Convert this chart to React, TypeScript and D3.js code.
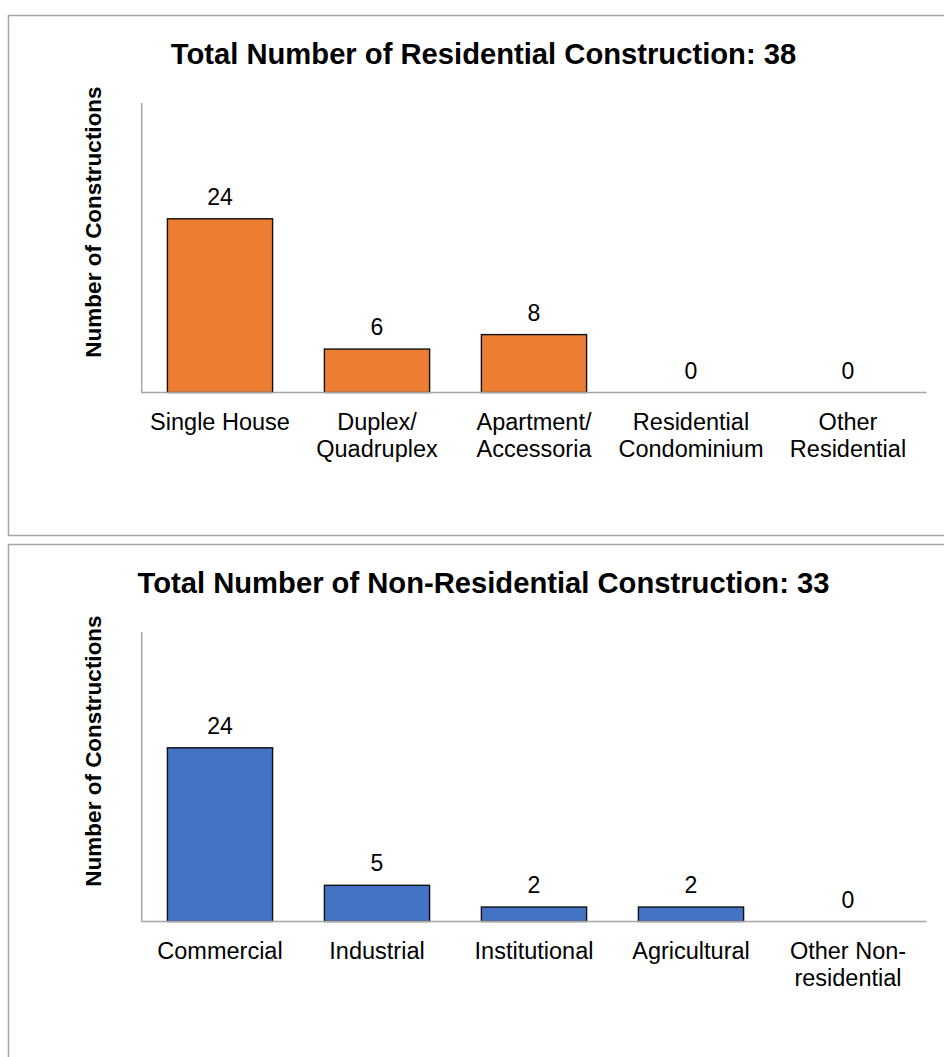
import React, { useEffect, useRef } from 'react';
import * as d3 from 'd3';

// residential chart
const resCategories = ['Single House', 'Duplex/\nQuadruplex', 'Apartment/\nAccessoria', 'Residential\nCondominium', 'Other\nResidential'];
const resValues = [24, 6, 8, 0, 0];
const resTitle = 'Total Number of Residential Construction: 38';

// non-residential chart
const nonResCategories = ['Commercial', 'Industrial', 'Institutional', 'Agricultural', 'Other Non-\nresidential'];
const nonResValues = [24, 5, 2, 2, 0];
const nonResTitle = 'Total Number of Non-Residential Construction: 33';

const yTitle = 'Number of Constructions';
const yDomainMax = 40;

const FONT = '"Liberation Sans", Arial, Helvetica, sans-serif';

const App: React.FC = () => {
  const svgRef = useRef<SVGSVGElement>(null);

  useEffect(() => {
    if (!svgRef.current) return;
    const svg = d3.select(svgRef.current);
    svg.selectAll('*').remove();

    const panels = [
      { title: resTitle, cats: resCategories, vals: resValues, color: '#ED7D31', top: 15.5, height: 520 },
      { title: nonResTitle, cats: nonResCategories, vals: nonResValues, color: '#4472C4', top: 544.5, height: 600 },
    ];

    panels.forEach(p => {
      const g = svg.append('g').attr('transform', `translate(0,${p.top - 15.5})`);

      // panel frame
      g.append('rect')
        .attr('x', 8.5).attr('y', 15.5)
        .attr('width', 1000).attr('height', p.height)
        .attr('fill', '#fff')
        .attr('stroke', '#a6a6a6')
        .attr('stroke-width', 1.5);

      const x = d3.scaleBand<string>()
        .domain(p.cats)
        .range([141.5, 926.5])
        .paddingInner(0.33)
        .paddingOuter(0.165);

      const y = d3.scaleLinear()
        .domain([0, yDomainMax])
        .range([392.5, 103]);

      // title
      g.append('text')
        .attr('x', 483.5)
        .attr('y', 64)
        .attr('text-anchor', 'middle')
        .attr('font-family', FONT)
        .attr('font-weight', 'bold')
        .attr('font-size', 29.2)
        .text(p.title);

      // y axis title
      g.append('text')
        .attr('transform', `translate(101,222) rotate(-90)`)
        .attr('text-anchor', 'middle')
        .attr('font-family', FONT)
        .attr('font-weight', 'bold')
        .attr('font-size', 22.5)
        .text(yTitle);

      // bars
      g.selectAll('.bar')
        .data(p.vals)
        .enter()
        .append('rect')
        .attr('class', 'bar')
        .attr('x', (_, i) => x(p.cats[i]) || 0)
        .attr('y', d => y(d))
        .attr('width', x.bandwidth())
        .attr('height', d => y(0) - y(d))
        .attr('fill', p.color)
        .attr('stroke', d => (d > 0 ? '#111' : 'none'))
        .attr('stroke-width', 1.4);

      // axes lines
      g.append('line')
        .attr('x1', 141.7).attr('x2', 141.7)
        .attr('y1', y(yDomainMax)).attr('y2', y(0))
        .attr('stroke', '#a6a6a6').attr('stroke-width', 1.5);
      g.append('line')
        .attr('x1', 141).attr('x2', 926.5)
        .attr('y1', y(0)).attr('y2', y(0))
        .attr('stroke', '#a6a6a6').attr('stroke-width', 1.5);

      // value labels
      g.selectAll('.val')
        .data(p.vals)
        .enter()
        .append('text')
        .attr('x', (_, i) => (x(p.cats[i]) || 0) + x.bandwidth() / 2)
        .attr('y', d => y(d) - 14)
        .attr('text-anchor', 'middle')
        .attr('font-family', FONT)
        .attr('font-size', 23)
        .attr('fill', '#000')
        .text(d => d);

      // category labels
      p.cats.forEach(c => {
        const t = g.append('text')
          .attr('x', (x(c) || 0) + x.bandwidth() / 2)
          .attr('y', 430)
          .attr('text-anchor', 'middle')
          .attr('font-family', FONT)
          .attr('font-size', 23.5)
          .attr('fill', '#000');
        c.split('\n').forEach((line, li) => {
          t.append('tspan')
            .attr('x', (x(c) || 0) + x.bandwidth() / 2)
            .attr('dy', li === 0 ? 0 : 27)
            .text(line);
        });
      });
    });
  }, []);

  return (
    <svg
      ref={svgRef}
      width={944}
      height={1057}
      style={{ position: 'absolute', left: 0, top: 0, background: '#fff' }}
    />
  );
};

export default App;
